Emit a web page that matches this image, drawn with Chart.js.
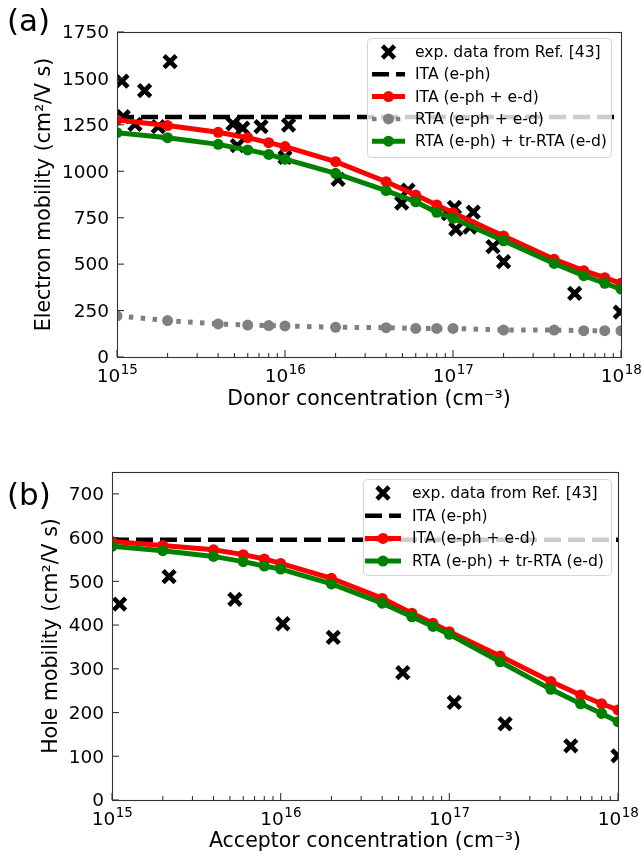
<!DOCTYPE html>
<html><head><meta charset="utf-8">
<script src="https://cdn.jsdelivr.net/npm/chart.js@4.4.0/dist/chart.umd.min.js"></script>
<style>html,body{margin:0;padding:0;background:#fff;}canvas{display:block;}</style>
</head><body>
<canvas id="ca" width="643" height="427"></canvas>
<canvas id="cb" width="643" height="427"></canvas>
<script>
// ---------- DATA ----------
const concentrations = [1e15,2e15,4e15,6e15,8e15,1e16,2e16,4e16,6e16,8e16,1e17,2e17,4e17,6e17,8e17,1e18];
const xRange = [1e15, 1e18];
const xDecades = [15, 16, 17, 18];

// (a) electrons
const elecItaEph = [1292, 1292];
const elecItaEphEd = [1276,1246,1210,1181,1154,1133,1052,944,872,819,777,652,526,465,427,397];
const elecRtaEphEd = [222,196,178,172,169,167,160,158,154,154,154,145,145,142,142,142];
const elecRtaTr = [1208,1181,1145,1115,1091,1065,989,896,836,779,747,626,504,438,397,366];
const elecExpX = [1.07e15,1.09e15,1.28e15,1.46e15,1.76e15,2.07e15,4.9e15,5.2e15,5.6e15,7.2e15,1.0e16,1.05e16,2.07e16,4.95e16,5.4e16,9.4e16,1.02e17,1.04e17,1.26e17,1.32e17,1.73e17,2.0e17,5.3e17,9.9e17];
const elecExpY = [1486,1294,1252,1434,1240,1590,1255,1138,1232,1240,1075,1249,957,828,899,772,805,688,700,780,594,513,343,242];
const elecYTicks = [0,250,500,750,1000,1250,1500,1750];

// (b) holes
const holeItaEph = [595, 595];
const holeItaEphEd = [591,582,572,561,551,541,507,461,427,404,385,329,271,240,220,206];
const holeRtaTr = [580,570,557,545,535,528,494,450,419,397,379,316,253,220,198,179];
const holeExpX = [1.11e15,2.18e15,5.35e15,1.03e16,2.05e16,5.3e16,1.07e17,2.14e17,5.25e17,1e18];
const holeExpY = [448,511,459,403,372,291,223,174,124,101];
const holeYTicks = [0,100,200,300,400,500,600,700];

const LBL_EXP = 'exp. data from Ref. [43]';
const LBL_ITA = 'ITA (e-ph)';
const LBL_ITA_ED = 'ITA (e-ph + e-d)';
const LBL_RTA_ED = 'RTA (e-ph + e-d)';
const LBL_RTA_TR = 'RTA (e-ph) + tr-RTA (e-d)';

// ---------- helpers ----------
const FONT = '"DejaVu Sans", Verdana, sans-serif';
const zip = (xs, ys) => xs.map((x, i) => ({x, y: ys[i]}));
const DASH = [17, 7];
const DOT = [4.5, 7.4];

function expSet(xs, ys){
  return {label: LBL_EXP, data: zip(xs, ys), showLine: false, pointStyle: 'crossRot',
    pointRadius: 8.5, pointHoverRadius: 8.5, borderColor: '#000', backgroundColor: '#000',
    pointBorderWidth: 4.6, order: 10, clip: 0};
}
function dashSet(ys){
  return {label: LBL_ITA, data: zip(xRange, ys), showLine: true, borderColor: '#000',
    borderWidth: 4.5, borderDash: DASH, pointRadius: 0, order: 9, clip: 0, borderCapStyle: 'butt'};
}
function lineSet(label, ys, color, order, dash){
  return {label, data: zip(concentrations, ys), showLine: true, borderColor: color,
    backgroundColor: color, borderWidth: 5, borderDash: dash || [], pointRadius: 5.5,
    pointBorderWidth: 0, pointBackgroundColor: color, order, clip: 0, borderCapStyle: 'butt'};
}

function drawX(ctx, cx, cy){
  const r = 8.5 * Math.SQRT1_2;
  ctx.save(); ctx.strokeStyle = '#000'; ctx.lineWidth = 4.6; ctx.setLineDash([]);
  ctx.beginPath();
  ctx.moveTo(cx - r, cy - r); ctx.lineTo(cx + r, cy + r);
  ctx.moveTo(cx + r, cy - r); ctx.lineTo(cx - r, cy + r);
  ctx.stroke(); ctx.restore();
}

function drawPow(ctx, x, yBase, e){
  ctx.save();
  ctx.textBaseline = 'alphabetic';
  const bf = '18.5px ' + FONT, sf = '13.5px ' + FONT;
  ctx.font = bf; const w1 = ctx.measureText('10').width;
  ctx.font = sf; const w2 = ctx.measureText(String(e)).width;
  const left = x - (w1 + w2) / 2;
  ctx.fillStyle = '#000'; ctx.textAlign = 'left';
  ctx.font = bf; ctx.fillText('10', left, yBase);
  ctx.font = sf; ctx.fillText(String(e), left + w1 + 0.5, yBase - 8.5);
  ctx.restore();
}

function makeDeco(o){
  return {
    id: 'deco',
    afterDatasetsDraw(chart){
      const ctx = chart.ctx, L = o.legend;
      ctx.save();
      ctx.beginPath();
      ctx.roundRect(L.x0 + 0.5, L.y0 + 0.5, L.x1 - L.x0, L.y1 - L.y0, 4);
      ctx.fillStyle = 'rgba(255,255,255,0.8)'; ctx.fill();
      ctx.strokeStyle = '#d4d4d4'; ctx.lineWidth = 1; ctx.stroke();
      const cx = (L.hx0 + L.hx1) / 2;
      L.entries.forEach((e, i) => {
        const y = L.ry0 + i * L.dy;
        if (e.kind === 'x') drawX(ctx, cx, y);
        else {
          ctx.beginPath(); ctx.setLineDash(e.dash || []); ctx.lineCap = 'butt';
          ctx.strokeStyle = e.color; ctx.lineWidth = e.lw;
          ctx.moveTo(L.hx0, y); ctx.lineTo(L.hx1, y); ctx.stroke(); ctx.setLineDash([]);
          if (e.marker){ ctx.beginPath(); ctx.arc(cx, y, 5.5, 0, Math.PI*2); ctx.fillStyle = e.color; ctx.fill(); }
        }
        ctx.fillStyle = '#000'; ctx.font = '15.6px ' + FONT; ctx.textAlign = 'left'; ctx.textBaseline = 'middle';
        ctx.fillText(e.label, L.tx, y + 1);
      });
      ctx.restore();
    },
    afterDraw(chart){
      const ctx = chart.ctx, a = chart.chartArea, xs = chart.scales.x, ys = chart.scales.y;
      ctx.save();
      // frame
      ctx.strokeStyle = '#333'; ctx.lineWidth = 1.1; ctx.setLineDash([]);
      ctx.strokeRect(Math.round(a.left) + 0.5, Math.round(a.top) + 0.5, Math.round(a.right - a.left), Math.round(a.bottom - a.top));
      // y ticks
      ctx.fillStyle = '#000'; ctx.font = '18.5px ' + FONT; ctx.textAlign = 'right'; ctx.textBaseline = 'middle';
      o.yTicks.forEach(v => {
        const y = ys.getPixelForValue(v);
        ctx.beginPath(); ctx.moveTo(a.left, y); ctx.lineTo(a.left + 7, y); ctx.stroke();
        ctx.fillText(String(v), a.left - 8, y + 1.5);
      });
      // x ticks (log)
      for (let d = xDecades[0]; d < xDecades[xDecades.length - 1]; d++){
        for (let m = 2; m <= 9; m++){
          const x = xs.getPixelForValue(m * Math.pow(10, d));
          ctx.beginPath(); ctx.moveTo(x, a.bottom); ctx.lineTo(x, a.bottom - 4); ctx.stroke();
        }
      }
      xDecades.forEach(d => {
        const x = xs.getPixelForValue(Math.pow(10, d));
        ctx.beginPath(); ctx.moveTo(x, a.bottom); ctx.lineTo(x, a.bottom - 7); ctx.stroke();
        drawPow(ctx, x, a.bottom + 25, d);
      });
      // axis titles
      ctx.fillStyle = '#000'; ctx.font = '20.5px ' + FONT; ctx.textAlign = 'center'; ctx.textBaseline = 'alphabetic';
      ctx.fillText(o.xTitle, (a.left + a.right) / 2 + o.xTitleDx, a.bottom + o.xTitleDy);
      ctx.save();
      ctx.translate(o.yTitleX, (a.top + a.bottom) / 2);
      ctx.rotate(-Math.PI / 2);
      ctx.textBaseline = 'middle';
      ctx.fillText(o.yTitle, 0, 0);
      ctx.restore();
      // panel label
      ctx.font = '31px ' + FONT; ctx.textAlign = 'left'; ctx.textBaseline = 'alphabetic';
      ctx.fillText(o.panel, 7, o.panelY);
      ctx.restore();
    }
  };
}

function makeChart(id, datasets, yMax, pad, deco){
  return new Chart(document.getElementById(id), {
    type: 'scatter',
    data: {datasets},
    options: {
      responsive: false, animation: false, devicePixelRatio: 1,
      layout: {padding: pad},
      plugins: {legend: {display: false}, tooltip: {enabled: false}},
      events: [],
      scales: {
        x: {type: 'logarithmic', min: xRange[0], max: xRange[1], display: false},
        y: {type: 'linear', min: 0, max: yMax, display: false}
      }
    },
    plugins: [makeDeco(deco)]
  });
}

// ---------- chart (a) ----------
makeChart('ca', [
  expSet(elecExpX, elecExpY),
  dashSet(elecItaEph),
  lineSet(LBL_ITA_ED, elecItaEphEd, '#ff0000', 3),
  lineSet(LBL_RTA_ED, elecRtaEphEd, '#808080', 2, DOT),
  lineSet(LBL_RTA_TR, elecRtaTr, '#008000', 1)
], 1750, {left: 117, right: 22, top: 32, bottom: 70}, {
  yTicks: elecYTicks,
  xTitle: 'Donor concentration (cm\u207B\u00B3)', xTitleDx: 0, xTitleDy: 48,
  yTitle: 'Electron mobility (cm\u00B2/V s)', yTitleX: 45,
  panel: '(a)', panelY: 31,
  legend: {x0: 367, y0: 38, x1: 611, y1: 157, ry0: 52, dy: 22.3, hx0: 372, hx1: 405, tx: 415,
    entries: [
      {kind: 'x', label: LBL_EXP},
      {label: LBL_ITA, color: '#000', lw: 4.5, dash: DASH},
      {label: LBL_ITA_ED, color: '#ff0000', lw: 5, marker: true},
      {label: LBL_RTA_ED, color: '#808080', lw: 4.5, dash: DOT, marker: true},
      {label: LBL_RTA_TR, color: '#008000', lw: 5, marker: true}
    ]}
});

// ---------- chart (b) ----------
makeChart('cb', [
  expSet(holeExpX, holeExpY),
  dashSet(holeItaEph),
  lineSet(LBL_ITA_ED, holeItaEphEd, '#ff0000', 3),
  lineSet(LBL_RTA_TR, holeRtaTr, '#008000', 1)
], 750, {left: 112, right: 25, top: 45, bottom: 54}, {
  yTicks: holeYTicks,
  xTitle: 'Acceptor concentration (cm\u207B\u00B3)', xTitleDx: 0, xTitleDy: 47,
  yTitle: 'Hole mobility (cm\u00B2/V s)', yTitleX: 52,
  panel: '(b)', panelY: 78,
  legend: {x0: 363, y0: 52, x1: 611, y1: 148, ry0: 66, dy: 22.7, hx0: 365, hx1: 401, tx: 412,
    entries: [
      {kind: 'x', label: LBL_EXP},
      {label: LBL_ITA, color: '#000', lw: 4.5, dash: DASH},
      {label: LBL_ITA_ED, color: '#ff0000', lw: 5, marker: true},
      {label: LBL_RTA_TR, color: '#008000', lw: 5, marker: true}
    ]}
});
</script>
</body></html>
